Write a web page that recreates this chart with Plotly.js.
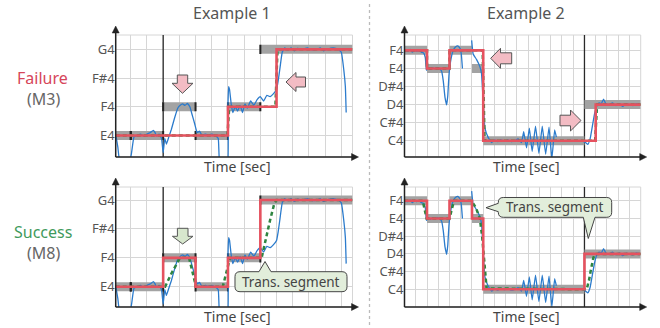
<!DOCTYPE html>
<html><head><meta charset="utf-8">
<script src="https://cdn.plot.ly/plotly-3.0.1.min.js"></script>
<style>html,body{margin:0;padding:0;background:#fff}#chart{width:660px;height:328px}</style>
</head><body><div id="chart"></div>
<script>
// ---------------- data ----------------
const pitchNames = {60:'C4',61:'C#4',62:'D4',63:'D#4',64:'E4',65:'F4',66:'F#4',67:'G4'};
const ex1TickPitches = [64, 65, 66, 67];
const ex2TickPitches = [60, 61, 62, 63, 64, 65];

// target notes (gray bars)
const ex1NoteStart = [0.07, 1, 3, 5, 7, 9];
const ex1NoteEnd   = [1, 3, 5, 7, 9, 14.69];
const ex1NotePitch = [64, 64, 65, 64, 65, 67];
const ex2NoteStart = [0, 2, 4, 6, 7, 16];
const ex2NoteEnd   = [2, 4, 6, 7, 16, 21];
const ex2NotePitch = [65, 64, 65, 64, 60, 62];

// sung pitch (blue)
const ex1PitchT = [0.08,0.2,0.35,0.9,1.05,1.2,1.4,1.6,1.8,2.0,2.2,2.4,2.5,2.6,2.75,2.9,3.0,3.1,3.2,3.35,3.5,3.7,3.9,4.05,4.2,4.35,4.5,4.65,4.8,4.95,5.1,5.25,5.4,5.6,5.8,6.0,6.2,6.4,6.5,6.97,7.0,7.04,7.1,7.2,7.3,7.45,7.6,7.75,7.9,8.05,8.2,8.4,8.6,8.8,9.0,9.2,9.4,9.6,9.8,10.0,10.1,10.2,10.35,10.5,10.7,10.9,11.1,11.3,11.6,11.9,12.2,12.5,12.7,12.9,13.2,13.5,13.8,14.0,14.15,14.25,14.3];
const ex1PitchV = [64.0,63.6,63.0,63.0,63.4,63.95,64.0,64.05,63.98,64.05,64.1,64.18,64.1,63.98,64.05,63.9,63.4,63.9,63.7,63.95,64.2,64.6,64.95,65.05,65.1,65.05,65.12,65.0,64.7,64.4,64.1,64.15,64.0,64.05,64.02,64.05,64.0,63.9,63.0,63.0,65.0,65.7,65.6,65.1,64.8,65.0,64.85,65.05,64.8,65.1,64.95,65.2,65.05,65.25,65.35,65.2,65.4,65.35,65.45,65.6,65.9,66.3,66.9,67.05,66.98,67.05,66.95,67.03,67.0,67.05,66.98,67.0,67.05,66.95,67.02,67.05,67.0,66.9,66.3,65.7,64.8];
const ex2PitchT = [0.05,0.3,0.5,0.7,0.9,1.1,1.3,1.5,1.7,1.85,1.95,2.1,2.3,2.5,2.7,2.9,3.1,3.3,3.45,3.6,3.75,3.85,3.95,4.1,4.3,4.55,4.75,4.95,5.05,5.15,null,
  5.97,6.1,6.4,6.7,6.85,7.0,7.15,7.45,7.75,8.0,8.3,8.6,8.9,9.2,9.5,9.8,10.1,10.4,10.6,10.85,11.1,11.35,11.65,11.95,12.25,12.55,12.85,13.1,13.35,13.5,null,
  15.9,16.1,16.3,16.5,16.7,16.9,17.1,17.3,17.5,17.7,17.9,18.2,18.5,18.8,19.1,19.4,19.7,20.0,20.3,20.6,20.9];
const ex2PitchV = [65.0,64.95,65.05,64.9,65.02,64.95,65.0,64.9,64.85,64.6,63.9,64.05,63.95,64.05,63.98,64.05,64.0,63.85,63.3,62.4,61.98,62.5,63.6,64.4,64.95,65.2,65.25,65.1,64.8,64.0,null,
  65.55,64.8,64.5,64.1,63.7,62.1,60.7,60.17,59.9,60.05,59.95,60.05,59.98,60.05,59.95,60.0,60.1,59.9,60.5,59.6,60.7,59.4,60.8,59.3,60.8,59.25,60.75,59.0,60.6,60.2,null,
  59.95,59.9,59.8,60.1,60.8,61.5,61.95,62.1,62.05,62.3,62.05,62.0,62.1,61.95,62.05,61.9,62.05,62.0,61.95,62.05,62.0];

// model output (red): Failure (M3) and Success (M8)
const ex1FailT = [0.07, 7, 7, 10, 10, 14.69];
const ex1FailV = [64, 64, 65, 65, 67, 67];
const ex1SuccT = [0.07, 3, 3, 5, 5, 7, 7, 9, 9, 14.69];
const ex1SuccV = [64, 64, 65, 65, 64, 64, 65, 65, 67, 67];
const ex2FailT = [0, 2, 2, 4, 4, 7, 7, 17, 17, 21];
const ex2FailV = [65, 65, 64, 64, 65, 65, 60, 60, 62, 62];
const ex2SuccT = [0, 2, 2, 4, 4, 6, 6, 7, 7, 16, 16, 21];
const ex2SuccV = [65, 65, 64, 64, 65, 65, 64, 64, 60, 60, 62, 62];

// transition segments (green dashed)
const ex1FailTransT = [0.07, 6.97, 7.08, 9.93, 10.06, 14.69];
const ex1FailTransV = [64, 64, 65, 65, 67, 67];
const ex1SuccTransT = [0.07, 3.12, 3.5, 4.04, 4.6, 5.03, 6.68, 7.13, 9.08, 9.3, 9.6, 9.85, 10.0, 14.69];
const ex1SuccTransV = [64, 64, 64.45, 65, 65, 64, 64, 65, 65, 65.6, 66.3, 66.85, 67, 67];
const ex2FailTransT = [0, 2, 2, 4, 4, 6.95, 7.12, 16.95, 17.12, 21];
const ex2FailTransV = [65, 65, 64, 64, 65, 65, 60, 60, 62, 62];
const ex2SuccTransT = [0, 1.62, 1.97, 4.0, 4.4, 5.97, 6.35, 6.7, 6.9, 7.1, 7.3, 16.2, 16.4, 16.6, 16.8, 16.95, 21];
const ex2SuccTransV = [65, 65, 64, 64, 65, 65, 64.6, 64.0, 63.0, 61.3, 60.05, 60, 60.5, 61.2, 61.8, 62, 62];

const ex1Marker = 3;   // black vertical line (time)
const ex2Marker = 16;

// ---------------- styling / build ----------------
const W = 660, H = 328;
const PX = x => x / W, PY = y => 1 - y / H;
const FONT = 'Noto Sans';
const C_RED = '#e5525f', C_BLUE = '#2b7bcc', C_GREEN = '#2e8540', C_GRAY = '#a3a3a3';

const RANGES = {
  x1: [0.07, 14.69], y1: [63.25, 67.5],
  x2: [0, 21], y2: [59.1, 65.85],
  y3: [63.3, 67.45], y4: [59.0, 65.78]
};

function barTrace(st, en, p, ax) {
  const x = [], y = [];
  st.forEach((s, i) => { x.push(s, en[i], null); y.push(p[i], p[i], null); });
  return {x, y, xaxis: 'x' + ax, yaxis: 'y' + ax, mode: 'lines', line: {color: C_GRAY, width: 9}, hoverinfo: 'skip'};
}
function onsetTrace(st, en, p, ax, h) {
  const x = [], y = [];
  for (let i = 1; i < st.length; i++) {
    x.push(st[i], st[i], null); y.push(p[i] - h, p[i] + h, null);
    x.push(en[i-1], en[i-1], null); y.push(p[i-1] - h, p[i-1] + h, null);
  }
  return {x, y, xaxis: 'x' + ax, yaxis: 'y' + ax, mode: 'lines', line: {color: '#222', width: 2}, hoverinfo: 'skip'};
}
function markerTrace(m, yr, ax) {
  return {x: [m, m], y: [yr[0] - 1, yr[1] + 1], xaxis: 'x' + ax, yaxis: 'y' + ax, mode: 'lines', line: {color: '#2a2a2a', width: 1.3}, hoverinfo: 'skip'};
}
function lineTrace(x, y, ax, color, width, dash, shape) {
  return {x, y, xaxis: 'x' + ax, yaxis: 'y' + ax, mode: 'lines', connectgaps: false,
    line: {color, width, dash: dash || 'solid', shape: shape || 'linear', smoothing: 0.3}, hoverinfo: 'skip'};
}

const traces = [];
[['', 'f', RANGES.y1], ['3', 's', RANGES.y3]].forEach(([ax, k, yr]) => {
  traces.push(markerTrace(ex1Marker, yr, ax));
  traces.push(barTrace(ex1NoteStart, ex1NoteEnd, ex1NotePitch, ax));
  traces.push(onsetTrace(ex1NoteStart, ex1NoteEnd, ex1NotePitch, ax, 0.16));
  traces.push(lineTrace(ex1PitchT, ex1PitchV, ax, C_BLUE, 1.3, 'solid', 'spline'));
  traces.push(lineTrace(k === 'f' ? ex1FailTransT : ex1SuccTransT, k === 'f' ? ex1FailTransV : ex1SuccTransV, ax, C_GREEN, 2.5, '4px,3px'));
  traces.push(lineTrace(k === 'f' ? ex1FailT : ex1SuccT, k === 'f' ? ex1FailV : ex1SuccV, ax, C_RED, 2.6));
});
[['2', 'f', RANGES.y2], ['4', 's', RANGES.y4]].forEach(([ax, k, yr]) => {
  traces.push(markerTrace(ex2Marker, yr, ax));
  traces.push(barTrace(ex2NoteStart, ex2NoteEnd, ex2NotePitch, ax));
  traces.push(lineTrace(ex2PitchT, ex2PitchV, ax, C_BLUE, 1.3, 'solid', 'spline'));
  traces.push(lineTrace(k === 'f' ? ex2FailTransT : ex2SuccTransT, k === 'f' ? ex2FailTransV : ex2SuccTransV, ax, C_GREEN, 2.5, '4px,3px'));
  traces.push(lineTrace(k === 'f' ? ex2FailT : ex2SuccT, k === 'f' ? ex2FailV : ex2SuccV, ax, C_RED, 2.6));
});

// geometry (pixels)
const L1 = 115.7, R1 = 352.5, L2 = 404.5, R2 = 640.7;
const T1 = 35, B1 = 157, T2 = 187, B2 = 307;

const GRID = '#d6d6d6';
function xAx(l, r, rng, anchor) {
  return {domain: [PX(l), PX(r)], range: rng, anchor, showticklabels: false, showgrid: true, gridcolor: GRID, gridwidth: 1,
    tick0: 0, dtick: 1, zeroline: false, showline: false, ticks: '', fixedrange: true};
}
function yAx(t, b, rng, tv, anchor) {
  return {domain: [PY(b), PY(t)], range: rng, anchor, tickvals: tv, ticktext: tv.map(v => pitchNames[v]),
    showgrid: true, gridcolor: GRID, gridwidth: 1, zeroline: false, showline: false, ticks: '',
    tickfont: {family: FONT, size: 13, color: '#555'}, fixedrange: true};
}

const shapes = [];
function pathPx(pts) {
  return 'M' + pts.map(p => PX(p[0]).toFixed(5) + ',' + PY(p[1]).toFixed(5)).join(' L') + ' Z';
}
[[L1, R1, T1, B1], [L2, R2, T1, B1], [L1, R1, T2, B2], [L2, R2, T2, B2]].forEach(([l, r, t, b]) => {
  shapes.push({type: 'rect', xref: 'paper', yref: 'paper', x0: PX(l), x1: PX(r), y0: PY(b), y1: PY(t), line: {color: GRID, width: 1}, layer: 'below'});
  shapes.push({type: 'line', xref: 'paper', yref: 'paper', x0: PX(l), x1: PX(l), y0: PY(b), y1: PY(t - 4), line: {color: '#222', width: 1.5}});
  shapes.push({type: 'line', xref: 'paper', yref: 'paper', x0: PX(l), x1: PX(r + 2), y0: PY(b), y1: PY(b), line: {color: '#222', width: 1.5}});
  shapes.push({type: 'path', xref: 'paper', yref: 'paper', path: pathPx([[l, t - 9], [l - 3.5, t - 2], [l + 3.5, t - 2]]), fillcolor: '#222', line: {color: '#222', width: 0.5}});
  shapes.push({type: 'path', xref: 'paper', yref: 'paper', path: pathPx([[r + 6, b], [r - 1, b - 3.5], [r - 1, b + 3.5]]), fillcolor: '#222', line: {color: '#222', width: 0.5}});
});
shapes.push({type: 'line', xref: 'paper', yref: 'paper', x0: PX(369.5), x1: PX(369.5), y0: PY(4), y1: PY(328), line: {color: '#bbb', width: 1.3, dash: 'dot'}});

function downArrow(cx, top, headY, tip, bw, hw) {
  return [[cx - bw, top], [cx + bw, top], [cx + bw, headY], [cx + hw, headY], [cx, tip], [cx - hw, headY], [cx - bw, headY]];
}
function leftArrow(tipX, cy, headX, endX, bh, hh) {
  return [[tipX, cy], [headX, cy - hh], [headX, cy - bh], [endX, cy - bh], [endX, cy + bh], [headX, cy + bh], [headX, cy + hh]];
}
function rightArrow(tipX, cy, headX, startX, bh, hh) {
  return [[tipX, cy], [headX, cy - hh], [headX, cy - bh], [startX, cy - bh], [startX, cy + bh], [headX, cy + bh], [headX, cy + hh]];
}
const PINK = '#f3bcc4', LGREEN = '#d7e7cd', EDGE = '#555';
[[downArrow(182.5, 75, 83.3, 93.3, 5.2, 10.5), PINK],
 [leftArrow(286, 82, 296, 305.5, 5, 9.5), PINK],
 [leftArrow(490.7, 58.3, 500.5, 511.7, 5.5, 10), PINK],
 [rightArrow(581, 120.5, 570.5, 560, 5.3, 10.5), PINK],
 [downArrow(182.7, 228.3, 236.3, 244, 5.3, 10.3), LGREEN]].forEach(([pts, fc]) => {
  shapes.push({type: 'path', xref: 'paper', yref: 'paper', path: pathPx(pts), fillcolor: fc, line: {color: EDGE, width: 1}});
});

function calloutPath(x0, y0, x1, y1, r, ptrs) {
  const P = (x, y) => PX(x).toFixed(5) + ',' + PY(y).toFixed(5);
  let d = 'M' + P(x0 + r, y0);
  if (ptrs.top) d += ' L' + P(ptrs.top[0], y0) + ' L' + P(ptrs.top[2], ptrs.top[3]) + ' L' + P(ptrs.top[1], y0);
  d += ' L' + P(x1 - r, y0) + ' Q' + P(x1, y0) + ' ' + P(x1, y0 + r);
  d += ' L' + P(x1, y1 - r) + ' Q' + P(x1, y1) + ' ' + P(x1 - r, y1);
  if (ptrs.bottom) d += ' L' + P(ptrs.bottom[1], y1) + ' L' + P(ptrs.bottom[2], ptrs.bottom[3]) + ' L' + P(ptrs.bottom[0], y1);
  d += ' L' + P(x0 + r, y1) + ' Q' + P(x0, y1) + ' ' + P(x0, y1 - r);
  if (ptrs.left) d += ' L' + P(x0, ptrs.left[1]) + ' L' + P(ptrs.left[2], ptrs.left[3]) + ' L' + P(x0, ptrs.left[0]);
  d += ' L' + P(x0, y0 + r) + ' Q' + P(x0, y0) + ' ' + P(x0 + r, y0) + ' Z';
  return d;
}
shapes.push({type: 'path', xref: 'paper', yref: 'paper', fillcolor: '#e2eedb', line: {color: '#444', width: 1},
  path: calloutPath(235, 271.7, 347, 291.7, 5, {top: [259, 271, 265, 261.5]})});
shapes.push({type: 'path', xref: 'paper', yref: 'paper', fillcolor: '#e2eedb', line: {color: '#444', width: 1},
  path: calloutPath(498.3, 197.5, 611.7, 217.3, 5, {left: [203.3, 211.7, 486, 207.7], bottom: [583.3, 595, 588.3, 238.5]})});

const ann = (x, y, text, size, color, extra) => Object.assign({xref: 'paper', yref: 'paper', x: PX(x), y: PY(y), text,
  showarrow: false, xanchor: 'center', yanchor: 'middle', font: {family: FONT, size, color}}, extra || {});
const annotations = [
  ann(231.7, 13.5, 'Example 1', 16, '#555'),
  ann(525.7, 13.5, 'Example 2', 16, '#555'),
  ann(42.5, 78, 'Failure', 16, '#d6455a'),
  ann(43, 99, '(M3)', 16, '#666'),
  ann(43, 231.5, 'Success', 16, '#3f9a5c'),
  ann(43, 253, '(M8)', 16, '#666'),
  ann(237.5, 166.5, 'Time [sec]', 14, '#444'),
  ann(526.3, 166.5, 'Time [sec]', 14, '#444'),
  ann(237.5, 316, 'Time [sec]', 14, '#444'),
  ann(526.3, 316, 'Time [sec]', 14, '#444'),
  ann(291, 281.7, 'Trans. segment', 13.5, '#444'),
  ann(555, 207.3, 'Trans. segment', 13.5, '#444')
];

const layout = {
  width: W, height: H, margin: {l: 0, r: 0, t: 0, b: 0}, paper_bgcolor: '#fff', plot_bgcolor: '#fff', showlegend: false,
  font: {family: FONT},
  xaxis: xAx(L1, R1, RANGES.x1, 'y'),
  yaxis: yAx(T1, B1, RANGES.y1, ex1TickPitches, 'x'),
  xaxis2: xAx(L2, R2, RANGES.x2, 'y2'),
  yaxis2: yAx(T1, B1, RANGES.y2, ex2TickPitches, 'x2'),
  xaxis3: xAx(L1, R1, RANGES.x1, 'y3'),
  yaxis3: yAx(T2, B2, RANGES.y3, ex1TickPitches, 'x3'),
  xaxis4: xAx(L2, R2, RANGES.x2, 'y4'),
  yaxis4: yAx(T2, B2, RANGES.y4, ex2TickPitches, 'x4'),
  shapes, annotations
};
Plotly.newPlot('chart', traces, layout, {staticPlot: true, displayModeBar: false});
</script></body></html>
